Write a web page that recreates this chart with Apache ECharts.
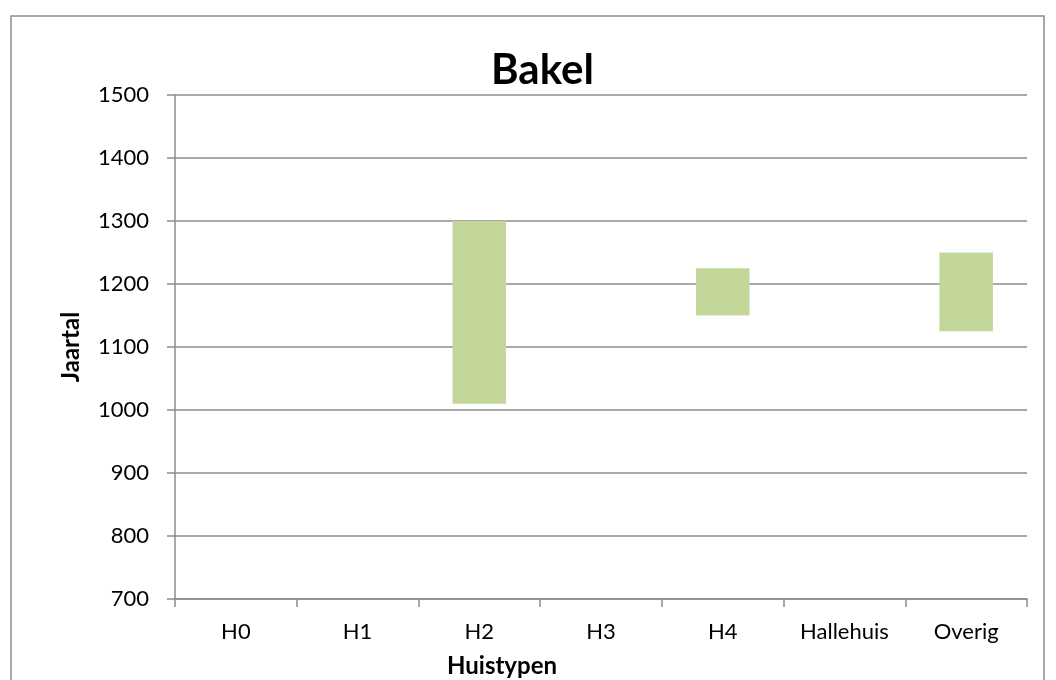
<!DOCTYPE html>
<html>
<head>
<meta charset="utf-8">
<script src="https://cdn.jsdelivr.net/npm/echarts@6/dist/echarts.min.js"></script>
<style>
  html, body { margin: 0; padding: 0; background: #fff; }
  #chart { width: 1056px; height: 680px; }
</style>
</head>
<body>
<div id="chart"></div>
<script>
  // categorieën en jaartallen (begin / eind)
  var categories = ['H0', 'H1', 'H2', 'H3', 'H4', 'Hallehuis', 'Overig'];
  var startYears = [null, null, 1010, null, 1150, null, 1125];
  var endYears = [null, null, 1300, null, 1225, null, 1250];

  var spans = startYears.map(function (s, i) {
    return s == null ? null : endYears[i] - s;
  });

  var myChart = echarts.init(document.getElementById('chart'));
  var font = 'Lato';

  var options = {
    animation: false,
    title: [
      {
        text: 'Bakel',
        left: 486,
        top: 44,
        textStyle: { fontFamily: font, fontSize: 42, fontWeight: 'bold', color: '#000' }
      },
      {
        // as-titel staat in het origineel iets links van het midden
        text: 'Huistypen',
        left: 447,
        top: 654,
        padding: 0,
        textStyle: { fontFamily: font, fontSize: 24, fontWeight: 'bold', color: '#000' }
      }
    ],
    graphic: [{
      type: 'rect',
      shape: { x: 11, y: 16, width: 1033, height: 700 },
      style: { fill: 'none', stroke: '#8c8c8c', lineWidth: 1.5 },
      silent: true
    }],
    grid: { left: 175, right: 29, top: 95, bottom: 81 },
    xAxis: {
      type: 'category',
      data: categories,
      axisLine: { lineStyle: { color: '#8c8c8c', width: 1.5 } },
      axisTick: { show: true, length: 8, lineStyle: { color: '#8c8c8c', width: 1.5 } },
      axisLabel: { fontFamily: font, fontSize: 22, color: '#000', margin: 22 }
    },
    yAxis: {
      type: 'value',
      min: 700,
      max: 1500,
      interval: 100,
      name: 'Jaartal',
      nameLocation: 'middle',
      nameGap: 92,
      nameTextStyle: { fontFamily: font, fontSize: 24, fontWeight: 'bold', color: '#000' },
      axisLine: { show: true, lineStyle: { color: '#8c8c8c', width: 1.5 } },
      axisTick: { show: true, length: 8, lineStyle: { color: '#8c8c8c', width: 1.5 } },
      axisLabel: {
        fontFamily: font, fontSize: 22, color: '#000', margin: 26,
        formatter: function (v) { return String(v); }
      },
      splitLine: { lineStyle: { color: '#8c8c8c', width: 1.5 } }
    },
    series: [
      {
        name: 'begin',
        type: 'bar',
        stack: 'jaar',
        barWidth: '44%',
        itemStyle: { color: 'transparent' },
        data: startYears
      },
      {
        name: 'periode',
        type: 'bar',
        stack: 'jaar',
        barWidth: '44%',
        itemStyle: { color: '#c4d79b' },
        data: spans
      }
    ]
  };
  myChart.setOption(options);
</script>
</body>
</html>
